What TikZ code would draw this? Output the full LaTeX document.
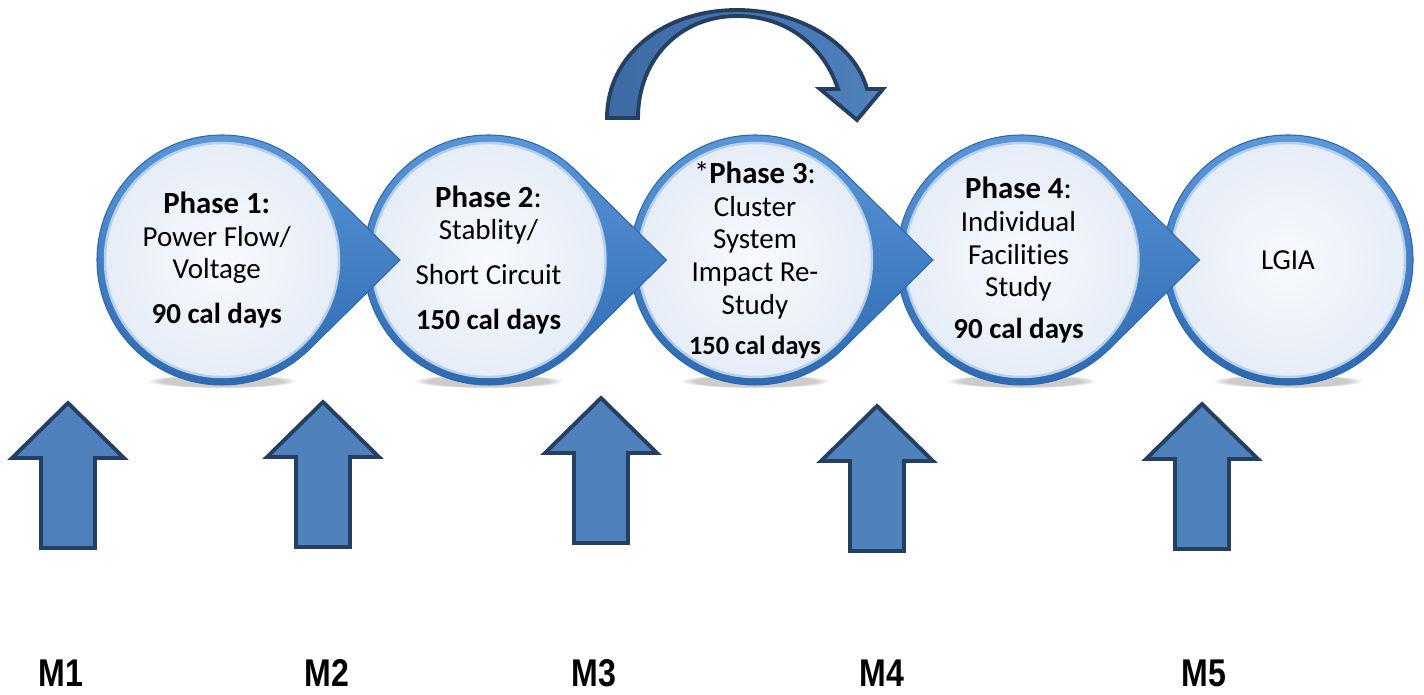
\documentclass[tikz,border=0pt]{standalone}
\usepackage{fontspec}
\setmainfont{Carlito}[Ligatures=NoCommon]
\newfontfamily\narrowsans[FakeStretch=0.83]{Liberation Sans}
\usetikzlibrary{calc,fadings}

\definecolor{ringblue}{HTML}{2D68B0}
\definecolor{ringlight}{HTML}{5C98D8}
\definecolor{discfill}{HTML}{E6EDF7}
\definecolor{arrowfill}{HTML}{4F81BD}
\definecolor{arrowdark}{HTML}{3E6AA3}
\definecolor{arrowline}{HTML}{243F60}

\newcommand\phasehead{\fontsize{17.5}{18}\selectfont}

\begin{document}
\begin{tikzpicture}[x=0.02cm,y=0.02cm,
    ring/.style={top color=ringlight, bottom color=ringblue, draw=ringblue, line width=0.6pt},
    disc/.style={inner color=white!70!discfill, outer color=discfill, draw=ringlight!45!white, line width=1.4pt},
    shade/.style={fill=black, opacity=0.2, path fading=circle with fuzzy edge 20 percent},
    uparrow/.style={fill=arrowfill, draw=arrowline, line width=2.2pt, line join=miter},
    bendarrow/.style={left color=arrowdark, right color=arrowfill, draw=arrowline, line width=2.2pt, line join=miter},
    phasetext/.style={align=center, font=\fontsize{16.5}{18.6}\selectfont},
    mtext/.style={font=\narrowsans\bfseries\fontsize{22}{26}\selectfont}]

\useasboundingbox (0,0) rectangle (1424,694);

% centres of the phase circles
\coordinate (c1) at (222,434);
\coordinate (c2) at (488.5,434);
\coordinate (c3) at (755,434);
\coordinate (c4) at (1021.5,434);
\coordinate (c5) at (1288,434);

% soft shadow under each circle
\foreach \k in {1,...,5}
  \fill[shade] ([shift={(0,-121)}]c\k) ellipse[x radius=75, y radius=7];

% last circle has no tip, the others are drawn right to left
\fill[ring] (c5) circle[radius=125];
\filldraw[disc] (c5) circle[radius=117];
\foreach \k in {4,3,2,1} {
  \fill[ring] ([shift={(45.4:125)}]c\k) arc[start angle=45.4, end angle=314.6, radius=125]
    -- ([shift={(178,0)}]c\k) -- cycle;
  \filldraw[disc] (c\k) circle[radius=117];
}

% jump arrow over phase 3
\draw[bendarrow] (607,576) .. controls (607,640) and (665,684) .. (737,684)
  .. controls (800,684) and (855,650) .. (867,605) -- (883,605) -- (857,574)
  -- (820,605) -- (838,605) .. controls (825,645) and (790,678) .. (737,678)
  .. controls (680,678) and (638,635) .. (638,576) -- cycle;

\node[phasetext] (P1) at ([xshift=-3]c1) {{\phasehead\bfseries Phase 1:}\\ Power Flow/\\ Voltage\\[7pt] \textbf{90 cal days}};
\node[phasetext] (P2) at (c2) {{\phasehead\textbf{Phase 2}:}\\ Stablity/\\[7pt] Short Circuit\\[7pt] \textbf{150 cal days}};
\node[phasetext] (P3) at (c3) {{\phasehead *\textbf{Phase 3}:}\\ Cluster\\ System\\ Impact Re-\\ Study\\[4pt] {\fontsize{15}{18}\selectfont\bfseries 150 cal days}};
\node[phasetext] (P4) at ([shift={(-3,0)}]c4) {{\phasehead\textbf{Phase 4}:}\\ Individual\\ Facilities\\ Study\\[5pt] \textbf{90 cal days}};
\node[phasetext] (P5) at (c5) {LGIA};

% milestone arrows
\foreach \c/\t in {68/291, 323/292, 601/296, 877/288, 1202/290}
  \draw[uparrow] (\c,\t) -- ++(56,-55) -- ++(-29,0) -- ++(0,-90) -- ++(-54,0)
    -- ++(0,90) -- ++(-29,0) -- cycle;

\node[mtext] (M1) at (61,21) {M1};
\node[mtext] (M2) at (327,21) {M2};
\node[mtext] (M3) at (594,21) {M3};
\node[mtext] (M4) at (882,21) {M4};
\node[mtext] (M5) at (1204,21) {M5};
\end{tikzpicture}
\end{document}
